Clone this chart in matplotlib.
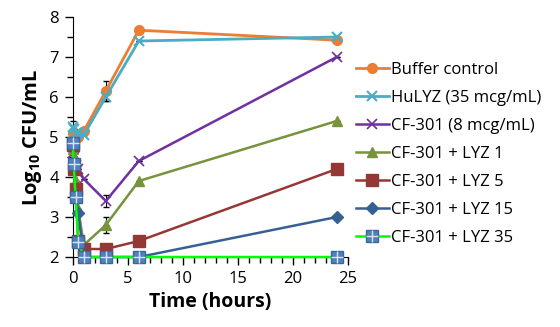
import matplotlib
matplotlib.use("Agg")
import matplotlib.pyplot as plt
from matplotlib.ticker import MultipleLocator
from matplotlib.lines import Line2D

plt.rcParams['font.family'] = ['Open Sans', 'DejaVu Sans']
plt.rcParams['mathtext.fontset'] = 'custom'
plt.rcParams['mathtext.bf'] = 'Open Sans:bold'
plt.rcParams['mathtext.rm'] = 'Open Sans:bold'
plt.rcParams['mathtext.default'] = 'bf'

# time points (hours)
t = [0, 0.083, 0.25, 0.5, 1, 3, 6, 24]

buffer_ctrl = [5.1, 5.05, 5.0, 5.0, 5.15, 6.15, 7.67, 7.42]
hulyz = [5.25, 5.2, 5.1, 5.1, 5.05, 6.0, 7.4, 7.5]
cf301 = [4.6, 4.5, 4.3, 4.2, 3.95, 3.4, 4.4, 7.0]
lyz1 = [4.7, 4.5, 3.9, 3.2, 2.3, 2.8, 3.9, 5.4]
lyz5 = [4.8, 4.2, 3.7, 2.4, 2.2, 2.2, 2.4, 4.2]
lyz15 = [4.9, 4.3, 3.5, 3.1, 2.0, 2.0, 2.0, 3.0]
lyz35 = [4.85, 4.33, 3.5, 2.38, 2.0, 2.0, 2.0, 2.0]

# a few visible error bars
err_buffer = [0, 0, 0, 0, 0, 0.25, 0, 0]
err_hulyz = [0.15, 0, 0, 0, 0, 0.1, 0, 0]
err_cf301 = [0, 0, 0, 0, 0, 0.15, 0, 0]
err_lyz1 = [0, 0, 0, 0, 0, 0.2, 0, 0]

labels = ['Buffer control', 'HuLYZ (35 mcg/mL)', 'CF-301 (8 mcg/mL)',
          'CF-301 + LYZ 1', 'CF-301 + LYZ 5', 'CF-301 + LYZ 15', 'CF-301 + LYZ 35']

fig = plt.figure(figsize=(5.6, 3.27), dpi=100)
ax = fig.add_axes([0.130, 0.214, 0.491, 0.734])

# error bars first, under the lines
for y, e in [(buffer_ctrl, err_buffer), (hulyz, err_hulyz),
             (cf301, err_cf301), (lyz1, err_lyz1)]:
    ax.errorbar(t, y, yerr=e, fmt='none', ecolor='black', elinewidth=0.8,
                capsize=2.5, zorder=2)

ax.plot(t, buffer_ctrl, color='#ED7D31', marker='o', ms=7, lw=2, zorder=3)
ax.plot(t, hulyz, color='#4BACC6', marker='x', ms=7, mew=1.5, lw=2, zorder=4)
ax.plot(t, cf301, color='#7030A0', marker='x', ms=7, mew=1.2, lw=1.8, zorder=3)
ax.plot(t, lyz1, color='#77933C', marker='^', ms=7, lw=1.8, zorder=3)
ax.plot(t, lyz5, color='#953735', marker='s', ms=8, lw=1.8, zorder=3)
ax.plot(t, lyz15, color='#376092', marker='D', ms=6, lw=1.8, zorder=3)
ax.plot(t, lyz35, color='#00FF00', lw=1.8, zorder=5)
# square with a light cross for the last series
ax.plot(t, lyz35, ls='none', marker='s', ms=8.5, mfc='#4F81BD', mec='#3A6699',
        zorder=5)
ax.plot(t, lyz35, ls='none', marker='+', ms=8, mec='#D9E4F1', mew=1.0, zorder=6)

ax.set_xlim(0, 25)
ax.set_ylim(2, 8)
ax.xaxis.set_major_locator(MultipleLocator(5))
ax.xaxis.set_minor_locator(MultipleLocator(1))
ax.yaxis.set_major_locator(MultipleLocator(1))
ax.yaxis.set_minor_locator(MultipleLocator(0.5))
ax.tick_params(axis='both', which='major', direction='out', length=6, width=1,
               labelsize=12, pad=4)
ax.tick_params(axis='both', which='minor', direction='out', length=4, width=1)
for s in ['top', 'right']:
    ax.spines[s].set_visible(False)
for ln in ax.lines:
    ln.set_clip_on(False)

ax.set_xlabel('Time (hours)', fontsize=14, fontweight='bold')
ax.set_ylabel('Log$_{10}$ CFU/mL', fontsize=14.5, fontweight='bold')

handles = [
    Line2D([], [], color='#ED7D31', marker='o', ms=7, lw=2),
    Line2D([], [], color='#4BACC6', marker='x', ms=7, mew=1.5, lw=2),
    Line2D([], [], color='#7030A0', marker='x', ms=7, mew=1.2, lw=1.8),
    Line2D([], [], color='#77933C', marker='^', ms=7, lw=1.8),
    Line2D([], [], color='#953735', marker='s', ms=8, lw=1.8),
    Line2D([], [], color='#376092', marker='D', ms=6, lw=1.8),
    (Line2D([], [], color='#00FF00', marker='s', ms=8.5, mfc='#4F81BD',
            mec='#3A6699', lw=1.8),
     Line2D([], [], ls='none', marker='+', ms=8, mec='#D9E4F1', mew=1.0)),
]
leg = fig.legend(handles, labels, loc='upper left', bbox_to_anchor=(0.62, 0.835),
                 frameon=False, fontsize=12, handlelength=2.0,
                 handletextpad=0.15, labelspacing=0.72, borderpad=0)

fig.savefig('out.png', dpi=100)
